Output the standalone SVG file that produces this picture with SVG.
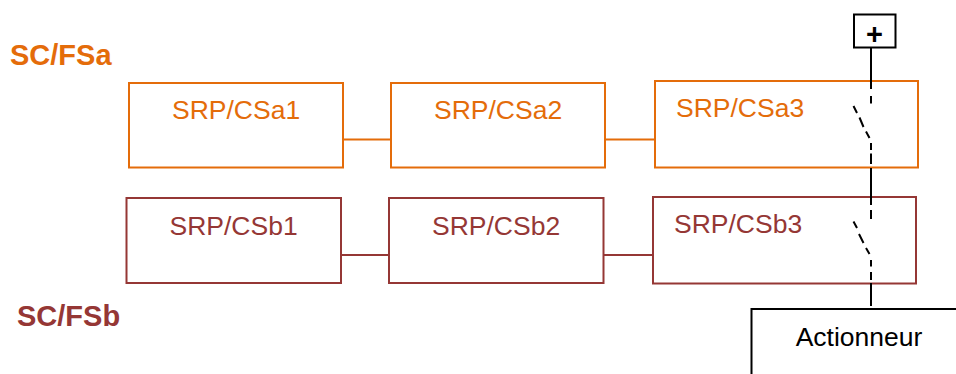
<svg xmlns="http://www.w3.org/2000/svg" width="956" height="374" viewBox="0 0 956 374">
<style>
text{font-family:"Liberation Sans",Arial,sans-serif;font-size:26.5px}
.t{font-size:29px;font-weight:bold}
.a rect{fill:none;stroke:#e46c0a;stroke-width:2}
.a text,.ta{fill:#e46c0a}
.b rect{fill:none;stroke:#953735;stroke-width:2}
.b text,.tb{fill:#953735}
.k{fill:none;stroke:#000;stroke-width:2}
.ca{stroke:#e46c0a;stroke-width:2}
.cb{stroke:#953735;stroke-width:2}
.p{font-size:29px;font-weight:bold}
</style>
<rect width="956" height="374" fill="#fff"/>
<text id="label-a" class="t ta" x="10" y="65">SC/FSa</text>
<text id="label-b" class="t tb" x="17" y="326">SC/FSb</text>
<g id="a1" class="a"><rect x="129" y="83" width="214" height="84.500"/><text x="172" y="118.500">SRP/CSa1</text></g>
<g id="a2" class="a"><rect x="391" y="83" width="214" height="84.500"/><text x="434" y="118.500">SRP/CSa2</text></g>
<g id="a3" class="a"><rect x="655" y="81" width="263" height="86.500"/><text x="676" y="116.500">SRP/CSa3</text></g>
<g id="b1" class="b"><rect x="126.500" y="198" width="214.500" height="85"/><text x="169.500" y="234.500">SRP/CSb1</text></g>
<g id="b2" class="b"><rect x="389" y="198" width="214.500" height="85"/><text x="432" y="234.500">SRP/CSb2</text></g>
<g id="b3" class="b"><rect x="653" y="197" width="263" height="86.500"/><text x="674" y="232.500">SRP/CSb3</text></g>
<g id="connectors">
<line class="ca" x1="343" y1="139.500" x2="391" y2="139.500"/>
<line class="ca" x1="605" y1="139.500" x2="655" y2="139.500"/>
<line class="cb" x1="341" y1="255" x2="389" y2="255"/>
<line class="cb" x1="603.500" y1="255" x2="653" y2="255"/>
<path class="k" d="M871 47.500V89M871 96V103.500M853.500 106L857 113M859.500 117.500L863.500 127M866 131.500L869.500 138M871 143V150M871 153.500V164M871 168V205M871 210V219M853.500 221.500L857 228M859 234L863.500 243M866 248L869.500 254M871 260V266.500M871 272V280M871 283V306"/>
</g>
<g id="plus"><rect class="k" x="854" y="14.500" width="41.500" height="33"/><text class="p" x="874.500" y="43.500" text-anchor="middle">+</text></g>
<g id="actionneur"><path class="k" d="M751.500 374V309H956"/><text x="859" y="345.500" text-anchor="middle">Actionneur</text></g>
</svg>
